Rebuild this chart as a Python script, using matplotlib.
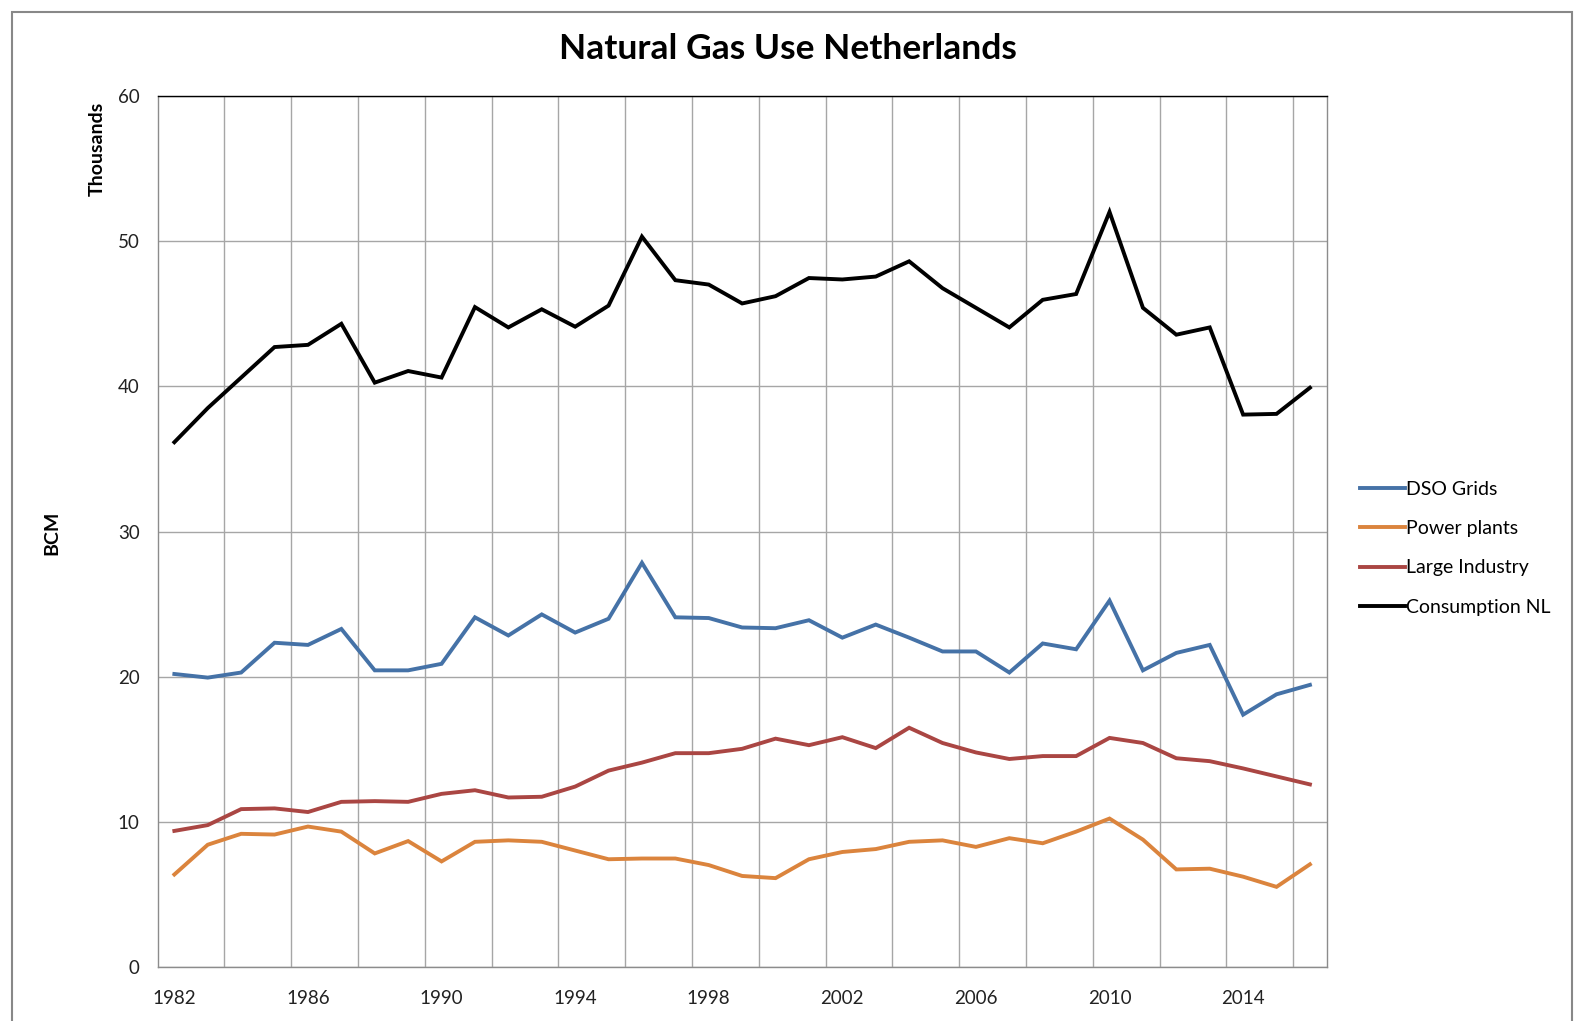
import numpy as np
import matplotlib
matplotlib.use('Agg')
import matplotlib.pyplot as plt
from matplotlib.patches import Rectangle

plt.rcParams['font.family'] = ['Lato', 'DejaVu Sans']

# data (BCM, thousands)
years = np.arange(1982, 2017)
dso_grids = [20.2, 19.95, 20.3, 22.35, 22.2, 23.3, 20.45, 20.45, 20.9, 24.1,
             22.85, 24.3, 23.05, 24.0, 27.85, 24.1, 24.05, 23.4, 23.35, 23.9,
             22.7, 23.6, 22.7, 21.75, 21.75, 20.3, 22.3, 21.9, 25.25, 20.45,
             21.65, 22.2, 17.4, 18.8, 19.45]
power_plants = [6.4, 8.45, 9.2, 9.15, 9.7, 9.35, 7.85, 8.7, 7.3, 8.65,
                8.75, 8.65, 8.05, 7.45, 7.5, 7.5, 7.05, 6.3, 6.15, 7.45,
                7.95, 8.15, 8.65, 8.75, 8.3, 8.9, 8.55, 9.35, 10.25, 8.8,
                6.75, 6.8, 6.25, 5.55, 7.1]
large_industry = [9.4, 9.8, 10.9, 10.95, 10.7, 11.4, 11.45, 11.4, 11.95, 12.2,
                  11.7, 11.75, 12.45, 13.55, 14.1, 14.75, 14.75, 15.05, 15.75, 15.3,
                  15.85, 15.1, 16.5, 15.45, 14.8, 14.35, 14.55, 14.55, 15.8, 15.45,
                  14.4, 14.2, 13.7, 13.15, 12.6]
consumption_nl = [36.15, 38.5, 40.6, 42.7, 42.85, 44.3, 40.25, 41.05, 40.6, 45.45,
                  44.05, 45.3, 44.1, 45.55, 50.3, 47.3, 47.0, 45.7, 46.2, 47.45,
                  47.35, 47.55, 48.6, 46.75, 45.4, 44.05, 45.95, 46.35, 52.0, 45.4,
                  43.55, 44.05, 38.05, 38.1, 39.9]
series_names = ['DSO Grids', 'Power plants', 'Large Industry', 'Consumption NL']
series_colors = ['#4572A7', '#DB843D', '#AA4643', '#000000']
label_years = np.arange(1982, 2015, 4)

fig = plt.figure(figsize=(15.75, 10.21), dpi=100)
fig.patch.set_facecolor('white')

# outer chart border
fig.patches.append(Rectangle((12 / 1575, -0.01), 1560 / 1575, 1.0041 - 0.0059,
                             transform=fig.transFigure, fill=False,
                             edgecolor='#888888', linewidth=1.5))

ax = fig.add_axes([0.1001, 0.0524, 0.7422, 0.8539])

for vals, name, col in zip([dso_grids, power_plants, large_industry, consumption_nl],
                           series_names, series_colors):
    ax.plot(years, vals, color=col, linewidth=2.8, label=name,
            solid_joinstyle='miter')

ax.set_xlim(1981.5, 2016.5)
ax.set_ylim(0, 60)
ax.set_yticks(np.arange(0, 61, 10))
ax.set_xticks(label_years)
ax.set_xticks(np.arange(1983.5, 2016, 2), minor=True)
ax.grid(True, which='minor', axis='x', color='#A6A6A6', linewidth=1.0)
ax.grid(True, which='major', axis='y', color='#A6A6A6', linewidth=1.0)
ax.set_axisbelow(True)
ax.tick_params(which='both', length=0)
ax.tick_params(axis='y', pad=13, labelsize=13.5, colors='#222222')
ax.tick_params(axis='x', pad=16, labelsize=13.5, colors='#222222')

for s in ['left', 'right', 'bottom']:
    ax.spines[s].set_color('#8C8C8C')
    ax.spines[s].set_linewidth(1.0)
ax.spines['top'].set_color('#000000')
ax.spines['top'].set_linewidth(1.0)

fig.text(0.5, 0.952, 'Natural Gas Use Netherlands', ha='center', va='center',
         fontsize=25.5, fontweight='bold')
fig.text(0.0619, 0.854, 'Thousands', rotation=90, ha='center', va='center',
         fontsize=14, fontweight='bold')
fig.text(0.033, 0.478, 'BCM', rotation=90, ha='center', va='center',
         fontsize=14, fontweight='bold')

leg = ax.legend(loc='center left', bbox_to_anchor=(1.014, 0.481), frameon=False,
                fontsize=14, handlelength=2.3, handletextpad=0.05,
                labelspacing=1.15)
for line in leg.get_lines():
    line.set_linewidth(2.8)

plt.savefig('out.png', dpi=100)
